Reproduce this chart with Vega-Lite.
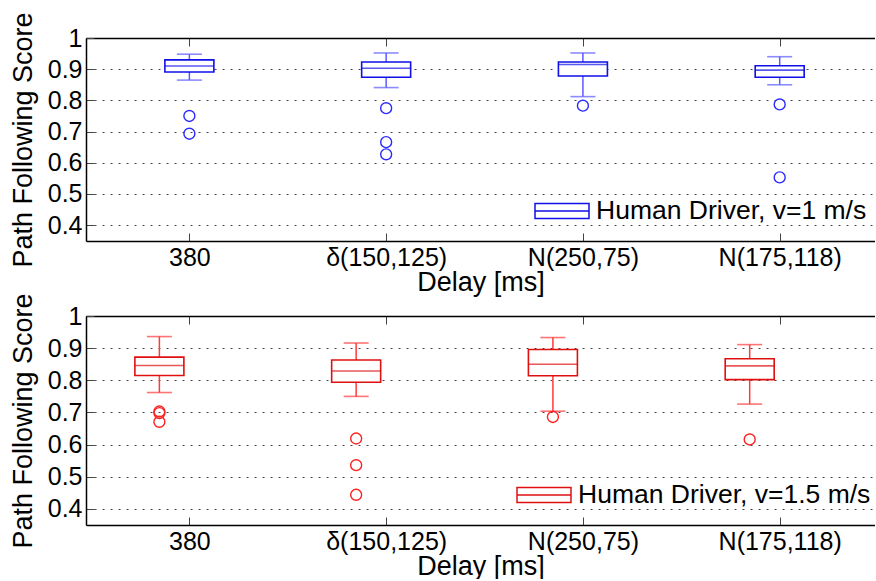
{
  "$schema": "https://vega.github.io/schema/vega-lite/v6.json",
  "padding": {"left": 9, "top": 11, "right": 0, "bottom": 0},
  "bounds": "flush",
  "spacing": 75,
  "background": "white",
  "resolve": {"scale": {"stroke": "independent"}, "legend": {"stroke": "independent"}},
  "config": {
    "view": {"stroke": null},
    "font": "Liberation Sans",
    "axis": {
      "labelFont": "Liberation Sans",
      "labelFontSize": 25,
      "labelColor": "black",
      "labelOverlap": false,
      "titleFont": "Liberation Sans",
      "titleFontSize": 27,
      "titleFontWeight": "normal",
      "titleColor": "black",
      "domainColor": "black",
      "domainWidth": 1.5,
      "tickColor": "#444",
      "tickWidth": 1,
      "tickSize": -8
    },
    "legend": {
      "labelFont": "Liberation Sans",
      "labelFontSize": 26.5,
      "labelColor": "black",
      "labelLimit": 0,
      "padding": 0
    }
  },
  "datasets": {
    "boxes_v1": [
      {"series": "Human Driver, v=1 m/s", "idx": 1, "lo": 0.865, "q1": 0.891, "med": 0.910, "q3": 0.930, "hi": 0.948},
      {"series": "Human Driver, v=1 m/s", "idx": 2, "lo": 0.841, "q1": 0.874, "med": 0.903, "q3": 0.923, "hi": 0.952},
      {"series": "Human Driver, v=1 m/s", "idx": 3, "lo": 0.812, "q1": 0.878, "med": 0.915, "q3": 0.923, "hi": 0.952},
      {"series": "Human Driver, v=1 m/s", "idx": 4, "lo": 0.850, "q1": 0.874, "med": 0.897, "q3": 0.911, "hi": 0.940}
    ],
    "outliers_v1": [
      {"idx": 1, "score": 0.750}, {"idx": 1, "score": 0.693},
      {"idx": 2, "score": 0.775}, {"idx": 2, "score": 0.666}, {"idx": 2, "score": 0.627},
      {"idx": 3, "score": 0.783},
      {"idx": 4, "score": 0.787}, {"idx": 4, "score": 0.553}
    ],
    "boxes_v15": [
      {"series": "Human Driver, v=1.5 m/s", "idx": 1, "lo": 0.762, "q1": 0.815, "med": 0.846, "q3": 0.872, "hi": 0.936},
      {"series": "Human Driver, v=1.5 m/s", "idx": 2, "lo": 0.750, "q1": 0.794, "med": 0.829, "q3": 0.863, "hi": 0.916},
      {"series": "Human Driver, v=1.5 m/s", "idx": 3, "lo": 0.704, "q1": 0.814, "med": 0.850, "q3": 0.896, "hi": 0.933},
      {"series": "Human Driver, v=1.5 m/s", "idx": 4, "lo": 0.726, "q1": 0.802, "med": 0.845, "q3": 0.867, "hi": 0.911}
    ],
    "outliers_v15": [
      {"idx": 1, "score": 0.703}, {"idx": 1, "score": 0.698}, {"idx": 1, "score": 0.671},
      {"idx": 2, "score": 0.619}, {"idx": 2, "score": 0.536}, {"idx": 2, "score": 0.444},
      {"idx": 3, "score": 0.686},
      {"idx": 4, "score": 0.616}
    ]
  },
  "vconcat": [
    {
      "width": 789,
      "height": 203,
      "resolve": {"axis": {"x": "independent"}},
      "layer": [
        {
          "data": {"name": "boxes_v1"},
          "encoding": {
            "x": {
              "field": "idx", "type": "quantitative",
              "scale": {"domain": [0.5, 4.459], "nice": false, "zero": false},
              "axis": {
                "title": "Delay [ms]", "values": [1, 2, 3, 4], "grid": false,
                "labelExpr": "['', '380', 'δ(150,125)', 'N(250,75)', 'N(175,118)'][datum.value]",
                "labelPadding": 12, "titlePadding": -1
              }
            },
            "y": {
              "type": "quantitative",
              "scale": {"domain": [0.349, 1], "nice": false, "zero": false},
              "axis": {
                "title": "Path Following Score",
                "values": [0.4, 0.5, 0.6, 0.7, 0.8, 0.9, 1],
                "format": ".1~f",
                "grid": true, "gridColor": "#444", "gridDash": [2, 6], "gridWidth": 1,
                "labelPadding": 12, "titlePadding": 10
              }
            }
          },
          "layer": [
            {
              "mark": {"type": "rule", "color": "#5a5aff", "strokeWidth": 1.5},
              "encoding": {"y": {"field": "lo"}, "y2": {"field": "hi"}}
            },
            {
              "mark": {"type": "bar", "size": 49, "fill": "white", "strokeWidth": 1.6, "orient": "vertical"},
              "encoding": {
                "y": {"field": "q1"}, "y2": {"field": "q3"},
                "stroke": {
                  "field": "series", "type": "nominal",
                  "scale": {"range": ["#1010e8"]},
                  "legend": {
                    "title": null, "orient": "none", "legendX": 448, "legendY": 145,
                    "symbolType": "M-1,-0.28H1V0.28H-1Z M-1,0H1",
                    "symbolSize": 2916, "symbolStrokeWidth": 1.5, "symbolFillColor": "white",
                    "labelOffset": 6
                  }
                }
              }
            },
            {
              "mark": {"type": "tick", "orient": "horizontal", "size": 49, "thickness": 1.6, "color": "#1010e8"},
              "encoding": {"y": {"field": "med"}}
            },
            {
              "mark": {"type": "tick", "orient": "horizontal", "size": 25, "thickness": 1.6, "color": "#5a5aff"},
              "encoding": {"y": {"field": "hi"}}
            },
            {
              "mark": {"type": "tick", "orient": "horizontal", "size": 25, "thickness": 1.6, "color": "#5a5aff"},
              "encoding": {"y": {"field": "lo"}}
            }
          ]
        },
        {
          "data": {"name": "outliers_v1"},
          "mark": {"type": "point", "shape": "circle", "filled": false, "size": 120, "stroke": "#2a2aff", "strokeWidth": 1.4, "opacity": 1},
          "encoding": {
            "x": {
              "field": "idx", "type": "quantitative",
              "scale": {"domain": [0.5, 4.459], "nice": false, "zero": false},
              "axis": {"orient": "top", "values": [1, 2, 3, 4], "labels": false, "title": null, "grid": false}
            },
            "y": {
              "field": "score", "type": "quantitative",
              "scale": {"domain": [0.349, 1], "nice": false, "zero": false},
              "axis": {
                "title": "Path Following Score",
                "values": [0.4, 0.5, 0.6, 0.7, 0.8, 0.9, 1],
                "format": ".1~f",
                "grid": true, "gridColor": "#444", "gridDash": [2, 6], "gridWidth": 1,
                "labelPadding": 12, "titlePadding": 10
              }
            }
          }
        }
      ]
    },
    {
      "width": 789,
      "height": 209,
      "resolve": {"axis": {"x": "independent"}},
      "layer": [
        {
          "data": {"name": "boxes_v15"},
          "encoding": {
            "x": {
              "field": "idx", "type": "quantitative",
              "scale": {"domain": [0.5, 4.459], "nice": false, "zero": false},
              "axis": {
                "title": "Delay [ms]", "values": [1, 2, 3, 4], "grid": false,
                "labelExpr": "['', '380', 'δ(150,125)', 'N(250,75)', 'N(175,118)'][datum.value]",
                "labelPadding": 12, "titlePadding": -1
              }
            },
            "y": {
              "type": "quantitative",
              "scale": {"domain": [0.35, 1], "nice": false, "zero": false},
              "axis": {
                "title": "Path Following Score",
                "values": [0.4, 0.5, 0.6, 0.7, 0.8, 0.9, 1],
                "format": ".1~f",
                "grid": true, "gridColor": "#444", "gridDash": [2, 6], "gridWidth": 1,
                "labelPadding": 12, "titlePadding": 10
              }
            }
          },
          "layer": [
            {
              "mark": {"type": "rule", "color": "#ff3a3a", "strokeWidth": 1.5, "xOffset": -30},
              "encoding": {"y": {"field": "lo"}, "y2": {"field": "hi"}}
            },
            {
              "mark": {"type": "bar", "size": 49, "fill": "white", "strokeWidth": 1.6, "orient": "vertical", "xOffset": -30},
              "encoding": {
                "y": {"field": "q1"}, "y2": {"field": "q3"},
                "stroke": {
                  "field": "series", "type": "nominal",
                  "scale": {"range": ["#e01010"]},
                  "legend": {
                    "title": null, "orient": "none", "legendX": 430, "legendY": 151,
                    "symbolType": "M-1,-0.28H1V0.28H-1Z M-1,0H1",
                    "symbolSize": 2916, "symbolStrokeWidth": 1.5, "symbolFillColor": "white",
                    "labelOffset": 6
                  }
                }
              }
            },
            {
              "mark": {"type": "tick", "orient": "horizontal", "size": 49, "thickness": 1.6, "color": "#e01010", "xOffset": -30},
              "encoding": {"y": {"field": "med"}}
            },
            {
              "mark": {"type": "tick", "orient": "horizontal", "size": 25, "thickness": 1.6, "color": "#ff3a3a", "xOffset": -30},
              "encoding": {"y": {"field": "hi"}}
            },
            {
              "mark": {"type": "tick", "orient": "horizontal", "size": 25, "thickness": 1.6, "color": "#ff3a3a", "xOffset": -30},
              "encoding": {"y": {"field": "lo"}}
            }
          ]
        },
        {
          "data": {"name": "outliers_v15"},
          "mark": {"type": "point", "shape": "circle", "filled": false, "size": 120, "stroke": "#ff2020", "strokeWidth": 1.4, "opacity": 1, "xOffset": -30},
          "encoding": {
            "x": {
              "field": "idx", "type": "quantitative",
              "scale": {"domain": [0.5, 4.459], "nice": false, "zero": false},
              "axis": {"orient": "top", "values": [1, 2, 3, 4], "labels": false, "title": null, "grid": false}
            },
            "y": {
              "field": "score", "type": "quantitative",
              "scale": {"domain": [0.35, 1], "nice": false, "zero": false},
              "axis": {
                "title": "Path Following Score",
                "values": [0.4, 0.5, 0.6, 0.7, 0.8, 0.9, 1],
                "format": ".1~f",
                "grid": true, "gridColor": "#444", "gridDash": [2, 6], "gridWidth": 1,
                "labelPadding": 12, "titlePadding": 10
              }
            }
          }
        }
      ]
    }
  ]
}
